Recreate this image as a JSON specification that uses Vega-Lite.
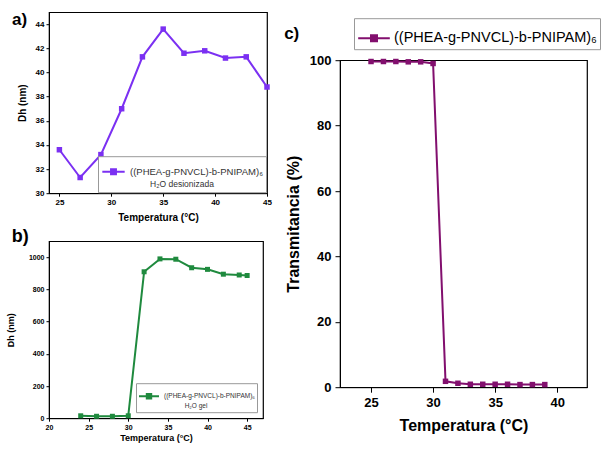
{
  "$schema": "https://vega.github.io/schema/vega-lite/v6.json",
  "padding": {"left": 5, "top": 10, "right": 0, "bottom": 0},
  "background": "white",
  "config": {
    "font": "Liberation Sans",
    "view": {"stroke": "black", "strokeWidth": 1.2},
    "axis": {"grid": false, "domainColor": "black", "tickColor": "black", "labelColor": "black", "titleColor": "black", "labelFontWeight": "bold", "titleFontWeight": "bold", "labelFont": "Liberation Sans", "titleFont": "Liberation Sans", "labelOverlap": false, "labelFlush": false},
    "legend": {"labelFont": "Liberation Sans", "titleFont": "Liberation Sans", "strokeColor": "#999999", "fillColor": "white", "labelColor": "#333333", "titleColor": "#333333", "labelLimit": 500},
    "text": {"font": "Liberation Sans"}
  },
  "datasets": {
    "a": [
      {"T": 25, "Dh": 33.6, "s": "((PHEA-g-PNVCL)-b-PNIPAM)₆"},
      {"T": 27, "Dh": 31.3, "s": "((PHEA-g-PNVCL)-b-PNIPAM)₆"},
      {"T": 29, "Dh": 33.2, "s": "((PHEA-g-PNVCL)-b-PNIPAM)₆"},
      {"T": 31, "Dh": 37.0, "s": "((PHEA-g-PNVCL)-b-PNIPAM)₆"},
      {"T": 33, "Dh": 41.3, "s": "((PHEA-g-PNVCL)-b-PNIPAM)₆"},
      {"T": 35, "Dh": 43.6, "s": "((PHEA-g-PNVCL)-b-PNIPAM)₆"},
      {"T": 37, "Dh": 41.6, "s": "((PHEA-g-PNVCL)-b-PNIPAM)₆"},
      {"T": 39, "Dh": 41.8, "s": "((PHEA-g-PNVCL)-b-PNIPAM)₆"},
      {"T": 41, "Dh": 41.2, "s": "((PHEA-g-PNVCL)-b-PNIPAM)₆"},
      {"T": 43, "Dh": 41.3, "s": "((PHEA-g-PNVCL)-b-PNIPAM)₆"},
      {"T": 45, "Dh": 38.8, "s": "((PHEA-g-PNVCL)-b-PNIPAM)₆"}
    ],
    "b": [
      {"T": 24, "Dh": 15, "s": "((PHEA-g-PNVCL)-b-PNIPAM)₆ "},
      {"T": 26, "Dh": 12, "s": "((PHEA-g-PNVCL)-b-PNIPAM)₆ "},
      {"T": 28, "Dh": 12, "s": "((PHEA-g-PNVCL)-b-PNIPAM)₆ "},
      {"T": 30, "Dh": 15, "s": "((PHEA-g-PNVCL)-b-PNIPAM)₆ "},
      {"T": 32, "Dh": 910, "s": "((PHEA-g-PNVCL)-b-PNIPAM)₆ "},
      {"T": 34, "Dh": 990, "s": "((PHEA-g-PNVCL)-b-PNIPAM)₆ "},
      {"T": 36, "Dh": 988, "s": "((PHEA-g-PNVCL)-b-PNIPAM)₆ "},
      {"T": 38, "Dh": 935, "s": "((PHEA-g-PNVCL)-b-PNIPAM)₆ "},
      {"T": 40, "Dh": 925, "s": "((PHEA-g-PNVCL)-b-PNIPAM)₆ "},
      {"T": 42, "Dh": 895, "s": "((PHEA-g-PNVCL)-b-PNIPAM)₆ "},
      {"T": 44, "Dh": 890, "s": "((PHEA-g-PNVCL)-b-PNIPAM)₆ "},
      {"T": 45, "Dh": 887, "s": "((PHEA-g-PNVCL)-b-PNIPAM)₆ "}
    ],
    "c": [
      {"T": 25, "Tr": 99.6, "s": "((PHEA-g-PNVCL)-b-PNIPAM)₆  "},
      {"T": 26, "Tr": 99.6, "s": "((PHEA-g-PNVCL)-b-PNIPAM)₆  "},
      {"T": 27, "Tr": 99.6, "s": "((PHEA-g-PNVCL)-b-PNIPAM)₆  "},
      {"T": 28, "Tr": 99.5, "s": "((PHEA-g-PNVCL)-b-PNIPAM)₆  "},
      {"T": 29, "Tr": 99.5, "s": "((PHEA-g-PNVCL)-b-PNIPAM)₆  "},
      {"T": 30, "Tr": 99.0, "s": "((PHEA-g-PNVCL)-b-PNIPAM)₆  "},
      {"T": 31, "Tr": 1.8, "s": "((PHEA-g-PNVCL)-b-PNIPAM)₆  "},
      {"T": 32, "Tr": 1.2, "s": "((PHEA-g-PNVCL)-b-PNIPAM)₆  "},
      {"T": 33, "Tr": 0.9, "s": "((PHEA-g-PNVCL)-b-PNIPAM)₆  "},
      {"T": 34, "Tr": 0.9, "s": "((PHEA-g-PNVCL)-b-PNIPAM)₆  "},
      {"T": 35, "Tr": 0.9, "s": "((PHEA-g-PNVCL)-b-PNIPAM)₆  "},
      {"T": 36, "Tr": 0.9, "s": "((PHEA-g-PNVCL)-b-PNIPAM)₆  "},
      {"T": 37, "Tr": 0.8, "s": "((PHEA-g-PNVCL)-b-PNIPAM)₆  "},
      {"T": 38, "Tr": 0.8, "s": "((PHEA-g-PNVCL)-b-PNIPAM)₆  "},
      {"T": 39, "Tr": 0.8, "s": "((PHEA-g-PNVCL)-b-PNIPAM)₆  "}
    ]
  },
  "spacing": 10,
  "center": true,
  "resolve": {"scale": {"color": "independent"}, "legend": {"color": "independent"}},
  "hconcat": [
    {
      "spacing": 3,
      "resolve": {"scale": {"color": "independent"}, "legend": {"color": "independent"}},
      "vconcat": [
        {
          "width": 218,
          "height": 181,
          "layer": [
            {
              "data": {"name": "a"},
              "mark": {"type": "line", "strokeWidth": 2, "point": {"shape": "square", "filled": true, "size": 30}},
              "encoding": {
                "x": {"field": "T", "type": "quantitative", "scale": {"domain": [24, 45], "nice": false},
                  "axis": {"values": [25, 30, 35, 40, 45], "title": "Temperatura (°C)", "labelOverlap": false, "labelFlush": false, "labelFontSize": 8, "titleFontSize": 10, "tickSize": 3, "labelPadding": 2, "titlePadding": 6}},
                "y": {"field": "Dh", "type": "quantitative", "scale": {"domain": [30, 45], "nice": false, "zero": false},
                  "axis": {"values": [30, 32, 34, 36, 38, 40, 42, 44], "title": "Dh (nm)", "labelOverlap": false, "labelFlush": false, "labelFontSize": 8, "titleFontSize": 10, "tickSize": 3, "labelPadding": 2, "titlePadding": 8}},
                "color": {"field": "s", "type": "nominal", "scale": {"range": ["#7b30f2"]},
                  "legend": {"orient": "bottom-right", "offset": 1, "title": "H₂O desionizada", "titleOrient": "bottom", "titleAnchor": "middle", "titleFontSize": 8.5, "titleFontWeight": "normal", "labelFontSize": 9.5, "symbolType": "M-1,0H1M-0.22,-0.22H0.22V0.22H-0.22Z", "symbolSize": 500, "symbolStrokeWidth": 2, "symbolFillColor": "#7b30f2", "padding": 3, "titlePadding": 2}}
              }
            },
            {
              "data": {"values": [{"lab": "a)"}]},
              "mark": {"type": "text", "align": "left", "baseline": "top", "fontSize": 17, "fontWeight": "bold"},
              "encoding": {
                "x": {"datum": 20.44, "type": "quantitative", "axis": {"values": [25, 30, 35, 40, 45], "title": "Temperatura (°C)", "labelOverlap": false, "labelFlush": false, "labelFontSize": 8, "titleFontSize": 10, "tickSize": 3, "labelPadding": 2, "titlePadding": 6}},
                "y": {"datum": 45, "type": "quantitative", "axis": {"values": [30, 32, 34, 36, 38, 40, 42, 44], "title": "Dh (nm)", "labelOverlap": false, "labelFlush": false, "labelFontSize": 8, "titleFontSize": 10, "tickSize": 3, "labelPadding": 2, "titlePadding": 8}},
                "text": {"field": "lab"}
              }
            }
          ]
        },
        {
          "width": 214,
          "height": 177,
          "layer": [
            {
              "data": {"name": "b"},
              "mark": {"type": "line", "strokeWidth": 2, "point": {"shape": "square", "filled": true, "size": 25}},
              "encoding": {
                "x": {"field": "T", "type": "quantitative", "scale": {"domain": [20, 47], "nice": false},
                  "axis": {"values": [20, 25, 30, 35, 40, 45], "title": ["Temperatura (°C)", "", "", ""], "titleLineHeight": 13, "labelOverlap": false, "labelFlush": false, "labelFontSize": 7, "titleFontSize": 9, "tickSize": 3, "labelPadding": 2, "titlePadding": 3}},
                "y": {"field": "Dh", "type": "quantitative", "scale": {"domain": [0, 1100], "nice": false},
                  "axis": {"values": [0, 200, 400, 600, 800, 1000], "format": "d", "title": "Dh (nm)", "labelOverlap": false, "labelFlush": false, "labelFontSize": 7, "titleFontSize": 9, "tickSize": 3, "labelPadding": 2, "titlePadding": 13}},
                "color": {"field": "s", "type": "nominal", "scale": {"range": ["#1f8a3e"]},
                  "legend": {"orient": "bottom-right", "offset": 6, "title": "H₂O gel", "titleOrient": "bottom", "titleAnchor": "middle", "titleFontSize": 6.5, "titleFontWeight": "normal", "labelFontSize": 6.5, "symbolType": "M-1,0H1M-0.22,-0.22H0.22V0.22H-0.22Z", "symbolSize": 400, "symbolStrokeWidth": 2, "symbolFillColor": "#1f8a3e", "padding": 2, "titlePadding": 1}}
              }
            },
            {
              "data": {"values": [{"lab": "b)"}]},
              "mark": {"type": "text", "align": "left", "baseline": "top", "fontSize": 18, "fontWeight": "bold"},
              "encoding": {
                "x": {"datum": 15.3, "type": "quantitative", "axis": {"values": [20, 25, 30, 35, 40, 45], "title": ["Temperatura (°C)", "", "", ""], "titleLineHeight": 13, "labelOverlap": false, "labelFlush": false, "labelFontSize": 7, "titleFontSize": 9, "tickSize": 3, "labelPadding": 2, "titlePadding": 3}},
                "y": {"datum": 1185, "type": "quantitative", "axis": {"values": [0, 200, 400, 600, 800, 1000], "format": "d", "title": "Dh (nm)", "labelOverlap": false, "labelFlush": false, "labelFontSize": 7, "titleFontSize": 9, "tickSize": 3, "labelPadding": 2, "titlePadding": 13}},
                "text": {"field": "lab"}
              }
            }
          ]
        }
      ]
    },
    {
      "width": 247,
      "height": 327,
      "layer": [
        {
          "data": {"name": "c"},
          "mark": {"type": "line", "strokeWidth": 2, "point": {"shape": "square", "filled": true, "size": 30}},
          "encoding": {
            "x": {"field": "T", "type": "quantitative", "scale": {"domain": [22.5, 42.4], "nice": false},
              "axis": {"values": [25, 30, 35, 40], "title": "Temperatura (°C)", "labelOverlap": false, "labelFontSize": 13, "titleFontSize": 16, "tickSize": 5, "labelPadding": 4, "titlePadding": 8}},
            "y": {"field": "Tr", "type": "quantitative", "scale": {"domain": [0, 100], "nice": false},
              "axis": {"values": [0, 20, 40, 60, 80, 100], "title": "Transmitancia (%)", "labelOverlap": false, "labelFontSize": 13, "titleFontSize": 16, "tickSize": 5, "labelPadding": 4, "titlePadding": 8}},
            "color": {"field": "s", "type": "nominal", "scale": {"range": ["#820f6e"]},
              "legend": {"orient": "none", "legendX": 14, "legendY": -42, "title": null, "labelFontSize": 14.5, "labelColor": "black", "labelOffset": 3, "symbolType": "M-1,0H1M-0.19,-0.19H0.19V0.19H-0.19Z", "symbolSize": 1000, "symbolStrokeWidth": 2, "symbolFillColor": "#820f6e", "padding": 3}}
          }
        },
        {
          "data": {"values": [{"lab": "c)"}]},
          "mark": {"type": "text", "align": "left", "baseline": "top", "fontSize": 17, "fontWeight": "bold"},
          "encoding": {
            "x": {"datum": 18.0, "type": "quantitative", "axis": {"values": [25, 30, 35, 40], "title": "Temperatura (°C)", "labelOverlap": false, "labelFontSize": 13, "titleFontSize": 16, "tickSize": 5, "labelPadding": 4, "titlePadding": 8}},
            "y": {"datum": 110.4, "type": "quantitative", "axis": {"values": [0, 20, 40, 60, 80, 100], "title": "Transmitancia (%)", "labelOverlap": false, "labelFontSize": 13, "titleFontSize": 16, "tickSize": 5, "labelPadding": 4, "titlePadding": 8}},
            "text": {"field": "lab"}
          }
        }
      ]
    }
  ]
}
